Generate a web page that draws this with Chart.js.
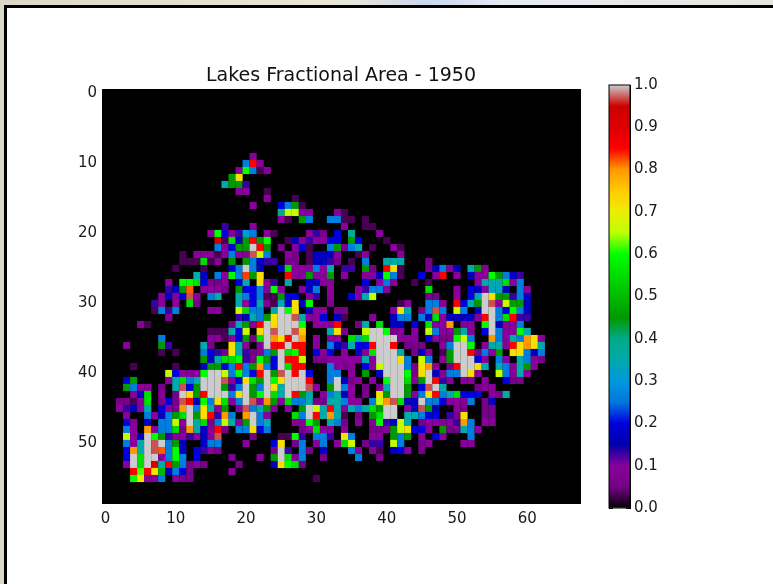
<!DOCTYPE html>
<html>
<head>
<meta charset="utf-8">
<title>Lakes Fractional Area - 1950</title>
<script src="https://cdn.jsdelivr.net/npm/chart.js@4"></script>
<style>
html, body { margin: 0; padding: 0; width: 773px; height: 584px; overflow: hidden; }
body { background: linear-gradient(90deg, #dcd8c8 0%, #e9e6da 45%, #c9d6ee 55%, #e6ebf4 65%, #e8e6dc 100%); }
#panel { position: absolute; left: 4px; top: 5px; width: 769px; height: 579px; box-sizing: border-box;
         background: #fff; border-left: 3px solid #000; border-top: 3px solid #000; }
canvas { position: absolute; left: 0; top: 0; }
</style>
</head>
<body>
<div id="panel"></div>
<canvas id="map" width="773" height="584"></canvas>
<canvas id="bar" width="773" height="584"></canvas>
<script>
// Chart text
const chartTitle = "Lakes Fractional Area - 1950";
const xTicks = [0, 10, 20, 30, 40, 50, 60];
const yTicks = [0, 10, 20, 30, 40, 50];
const barTicks = [0, 0.1, 0.2, 0.3, 0.4, 0.5, 0.6, 0.7, 0.8, 0.9, 1.0];

// Colormap stops, every 0.05 from 0 to 1
const mapStops = ["#000000","#770088","#880099","#0000aa","#0000dd","#0077dd","#0099dd","#00aaaa","#00aa88","#009900",
  "#00bb00","#00dd00","#00ff00","#bbff00","#eeee00","#ffcc00","#ff9900","#ff0000","#dd0000","#cc0000","#cccccc"];

// Cells: column, percent, column, percent ... (everything else is 0)
const firstRow = 9;
const row09 = [21,10];
const row10 = [20,26,21,85,22,10];
const row11 = [19,10,20,60,21,26,22,3,23,10];
const row12 = [18,45,19,72];
const row13 = [17,35,18,45,19,45,20,13];
const row14 = [19,10,20,10,23,3];
const row15 = [23,10,27,3];
const row16 = [21,10,25,20,26,26,27,45,28,3];
const row17 = [25,40,26,66,27,66,28,10,29,10,33,10,34,3];
const row18 = [25,10,26,3,28,45,29,26,32,26,33,26,34,3,35,3,37,3];
const row19 = [17,13,21,10,34,10,37,3,38,3];
const row20 = [15,10,16,60,17,20,18,10,19,13,20,30,21,26,23,10,24,3,29,10,30,13,31,5,33,20,35,38,39,10];
const row21 = [16,93,17,3,18,55,19,17,20,45,21,85,22,45,23,60,26,3,27,17,28,10,29,13,30,10,31,10,32,20,33,20,35,45,36,20,40,3];
const row22 = [16,26,17,10,18,20,19,45,20,45,21,100,22,85,23,45,25,5,27,10,28,20,29,3,32,26,33,45,34,5,35,26,36,35,38,3,41,10,42,3];
const row23 = [11,3,13,10,14,10,15,10,16,3,17,10,18,26,19,10,20,10,21,97,22,66,23,26,26,10,27,5,29,3,30,17,31,17,32,17,33,10,36,3,37,10,42,10];
const row24 = [11,3,12,3,13,3,14,55,15,3,16,10,18,45,20,45,21,26,22,17,23,13,24,13,26,5,27,5,29,3,30,17,31,17,32,13,33,5,35,3,37,26,40,35,41,35,42,35,46,5];
const row25 = [10,3,14,3,18,20,19,26,20,100,21,26,22,17,25,17,26,55,27,10,28,10,29,10,30,26,31,10,32,35,34,13,35,13,37,45,38,5,40,85,41,72,42,3,46,5,47,17,48,26,49,10,50,17,52,35,53,45,54,10];
const row26 = [13,35,14,17,16,26,17,10,18,60,19,26,20,83,21,45,22,72,26,85,27,10,28,10,29,45,30,10,31,10,32,45,34,10,37,10,38,10,39,17,40,60,41,26,42,3,45,20,47,10,48,85,50,10,52,17,53,10,54,10,55,60,56,45,57,26,58,17,59,13];
const row27 = [9,10,11,60,12,60,13,55,14,20,15,5,16,5,17,10,19,20,20,35,22,72,23,10,24,13,26,35,29,17,30,17,31,10,32,10,37,20,39,10,40,26,41,10,44,3,46,3,53,10,54,35,55,35,56,35,57,55,58,10,59,26];
const row28 = [9,13,10,17,11,45,12,82,14,10,15,10,16,10,17,5,19,45,20,20,21,20,22,26,23,10,24,60,25,10,28,10,29,17,30,26,32,10,36,10,37,13,38,26,39,26,40,10,46,55,50,10,52,20,53,17,54,10,55,33,56,33,57,17,59,26,60,10];
const row29 = [8,10,9,17,10,10,11,20,12,97,13,10,15,26,16,35,19,35,20,26,21,20,22,26,23,3,24,3,25,45,26,20,27,20,29,10,30,13,32,10,35,20,36,10,37,35,38,66,46,5,47,5,50,10,52,20,53,35,54,100,55,72,56,45,57,45,58,13,59,26,60,17];
const row30 = [7,13,8,10,10,10,12,55,13,5,19,35,20,10,21,20,22,35,23,10,24,3,25,35,26,17,27,72,28,17,29,60,32,5,42,3,43,10,46,26,47,26,48,10,50,85,51,20,52,35,53,45,54,100,55,97,56,10,57,66,58,45,59,45,60,17];
const row31 = [7,3,8,26,9,13,10,26,15,10,16,10,19,66,20,55,21,26,22,26,24,35,25,100,26,60,27,72,29,17,30,10,31,10,33,5,34,5,41,10,42,72,43,35,45,5,46,26,47,97,48,26,50,66,51,26,53,17,54,100,55,100,56,26,57,20,58,60,59,26,60,17];
const row32 = [9,10,19,13,20,17,21,35,22,26,23,45,24,72,25,100,26,100,27,97,28,35,29,10,30,10,31,20,33,17,34,3,38,10,41,17,42,26,43,26,45,26,46,17,47,55,48,10,49,17,50,17,51,17,52,17,53,10,54,85,55,100,56,26,57,55,58,85,59,13,60,13];
const row33 = [5,10,6,3,18,5,19,35,20,45,21,10,22,85,23,100,24,72,25,100,26,100,27,100,28,60,30,10,31,10,32,10,33,85,36,5,37,35,39,55,41,17,42,17,44,20,46,55,47,10,48,10,49,80,51,10,52,10,54,60,55,100,56,17,57,10,58,10,59,26];
const row34 = [15,3,16,3,17,3,18,35,19,20,20,66,22,72,23,100,24,97,25,100,26,100,27,97,28,75,32,35,33,72,34,5,37,66,38,100,39,100,40,60,41,5,42,10,44,10,46,66,47,26,48,10,49,10,50,45,51,35,52,10,54,20,55,100,56,26,57,10,58,10,59,60,60,35];
const row35 = [8,26,15,10,16,10,17,3,18,10,19,20,20,45,21,5,22,55,23,100,24,80,25,72,26,85,27,100,28,80,30,10,32,10,33,10,35,55,36,35,37,55,38,100,39,100,40,100,41,100,42,10,43,10,44,10,46,20,47,10,48,5,49,5,50,60,51,66,52,26,55,80,56,26,57,10,58,35,59,26,60,80,61,72,62,10];
const row36 = [3,10,8,45,9,13,14,35,15,5,18,72,19,35,20,10,22,10,23,100,24,85,25,85,26,100,27,85,28,85,30,10,32,26,33,17,34,13,35,35,36,20,37,20,38,85,39,100,40,100,41,85,43,5,44,5,45,5,48,10,49,26,50,100,51,100,52,60,54,10,55,35,56,35,57,10,58,85,59,72,60,80,61,72,62,35];
const row37 = [8,3,10,3,14,26,15,20,16,13,17,5,18,72,19,35,20,13,21,5,22,10,23,26,24,45,25,100,26,55,27,60,28,85,30,20,31,10,32,20,34,10,36,17,37,10,38,55,39,100,40,100,41,100,42,35,44,5,45,17,46,10,48,3,49,45,50,100,51,100,52,85,53,5,54,26,55,10,56,45,58,72,59,72,60,26,61,17,62,26];
const row38 = [14,45,15,17,16,35,17,55,18,55,19,60,20,13,21,5,22,60,23,45,24,20,25,100,26,85,27,85,28,66,30,5,31,5,32,10,33,10,34,10,35,10,36,10,37,35,38,10,39,100,40,100,41,100,42,72,43,26,45,66,46,26,48,10,49,45,50,100,51,100,52,100,53,20,54,10,56,26,57,10,59,35,60,26,61,10,62,5];
const row39 = [4,3,10,3,14,17,15,45,16,45,17,20,18,26,19,85,20,26,21,45,22,80,23,26,24,20,25,100,26,55,27,85,28,85,32,26,33,10,34,5,35,10,37,20,38,10,39,66,40,100,41,100,42,100,43,26,44,5,45,72,46,80,47,10,49,5,50,85,51,100,52,100,53,72,54,35,56,35,57,26,58,10,59,35,60,45,61,10];
const row40 = [9,66,10,20,11,10,12,10,13,10,14,60,15,100,16,100,17,66,18,26,19,60,20,26,21,20,22,85,23,100,24,45,25,97,26,100,27,85,28,100,29,20,32,26,33,26,35,10,37,45,39,17,40,100,41,100,42,100,43,60,44,5,45,72,46,100,47,17,48,10,49,26,50,26,51,100,52,72,53,10,56,66,57,26,58,10,59,35,60,10];
const row41 = [3,20,4,45,9,10,10,35,11,55,12,26,13,35,14,100,15,100,16,100,17,97,18,10,19,20,20,72,21,55,22,45,23,100,24,60,25,72,26,100,27,100,28,100,29,85,32,26,33,100,34,17,35,5,36,10,38,10,40,60,41,100,42,100,43,55,44,10,45,45,46,100,47,85,48,13,49,10,51,10,52,10,54,10,57,20,58,5,59,5];
const row42 = [3,45,4,26,5,10,6,10,8,5,10,35,11,97,12,20,13,45,14,100,15,100,16,100,17,45,18,13,19,26,20,100,21,45,22,26,23,100,24,72,25,35,26,100,27,100,28,100,29,97,30,10,32,45,33,100,34,26,35,10,37,5,39,5,40,35,41,100,42,100,43,45,45,20,46,97,47,100,48,35,53,5,54,10,55,10];
const row43 = [4,10,5,17,6,55,8,10,10,5,11,100,12,72,13,45,14,85,15,100,16,100,17,100,18,26,19,72,20,100,21,45,22,60,23,100,24,55,25,35,26,100,27,85,28,45,29,35,31,10,32,26,33,35,34,17,35,10,37,5,39,72,40,45,41,100,42,100,43,45,44,10,45,26,46,72,47,85,48,26,49,35,50,55,51,20,52,20,53,20,55,10,56,5,57,35];
const row44 = [2,5,3,5,4,3,5,10,6,55,8,5,9,20,10,5,11,97,12,85,13,17,14,60,15,26,16,72,17,55,18,10,19,26,20,100,21,97,22,10,23,80,24,45,25,10,26,55,27,26,28,26,29,35,30,5,31,5,32,35,33,35,34,26,35,10,36,10,38,26,39,66,40,80,41,97,42,55,43,17,44,17,45,100,46,26,47,26,48,20,49,10,50,10,51,10,52,26,54,5,55,17];
const row45 = [2,10,3,13,4,17,5,10,6,35,8,20,9,10,10,5,11,80,12,100,13,26,14,72,15,35,16,10,17,45,19,10,20,97,21,26,22,35,23,45,24,10,26,10,28,45,29,100,30,66,31,35,32,85,33,35,34,10,35,35,36,26,37,35,38,55,39,45,40,100,41,100,43,10,44,17,45,97,46,45,47,17,50,10,51,5,54,5,55,5];
const row46 = [3,10,6,26,7,10,8,17,9,26,10,45,11,55,12,100,13,45,14,72,15,85,16,13,17,80,18,26,20,80,21,100,22,26,23,10,27,55,28,26,29,100,30,85,31,35,32,80,33,35,34,3,36,5,38,45,39,55,40,100,41,100,43,35,44,35,45,26,46,20,47,20,49,13,50,5,51,72,54,5,55,5];
const row47 = [3,20,4,10,6,17,8,26,9,26,10,66,11,10,12,100,13,35,14,55,15,5,16,26,17,66,18,35,19,10,20,45,21,100,22,26,23,35,27,10,28,10,29,60,30,45,32,35,33,26,34,5,36,10,38,10,39,60,40,13,41,17,42,66,43,35,45,5,46,10,47,10,48,10,49,10,50,13,51,80,52,26,54,10,55,10];
const row48 = [3,26,4,10,6,80,7,10,8,26,9,26,10,55,11,5,12,80,13,35,14,17,15,10,16,85,17,5,19,26,20,26,21,72,22,20,23,26,28,5,29,10,30,55,31,10,32,10,34,10,38,5,39,5,40,10,41,45,42,66,43,72,44,20,45,20,46,10,48,45,49,5,50,5,51,35,52,26,53,10];
const row49 = [3,66,4,10,5,17,6,100,7,60,8,45,9,13,10,10,11,10,12,13,13,10,14,17,15,10,16,97,21,5,25,3,26,3,27,60,28,13,30,26,31,26,32,13,34,72,35,26,38,10,39,10,41,45,42,26,43,45,45,10,47,20,48,10,52,26];
const row50 = [3,26,4,10,5,35,6,100,7,97,8,100,9,26,10,45,11,17,14,17,15,26,16,26,20,10,24,20,25,72,27,5,28,26,30,10,31,26,33,10,34,55,35,66,37,5,38,13,39,13,41,66,42,26,45,5,46,10,51,10,52,10];
const row51 = [3,20,4,80,5,35,6,100,7,97,8,82,9,26,10,60,11,17,13,20,14,13,15,10,16,5,24,5,25,100,26,13,28,26,29,5,31,17,35,26,36,10,38,10,39,3,41,17,42,20,43,10,45,5];
const row52 = [3,20,4,100,5,55,6,100,7,100,8,10,9,26,10,60,11,26,13,20,18,5,22,10,24,45,25,100,26,55,27,10,28,26,31,5,36,26,39,5];
const row53 = [3,10,4,100,5,55,6,100,7,90,8,35,9,85,10,45,11,26,12,5,13,10,14,5,19,5,24,17,25,72,26,60,27,55,28,5];
const row54 = [4,85,5,62,6,85,7,72,8,50,9,17,10,26,11,20,12,5,18,10];
const row55 = [4,60,5,72,6,10,7,10,8,26,10,10,11,5,12,5,30,3];
const cellRows = [row09,row10,row11,row12,row13,row14,row15,row16,row17,row18,row19,row20,row21,row22,row23,row24,
  row25,row26,row27,row28,row29,row30,row31,row32,row33,row34,row35,row36,row37,row38,row39,row40,row41,row42,row43,
  row44,row45,row46,row47,row48,row49,row50,row51,row52,row53,row54,row55];

// Look up a colormap colour for a value in 0..1
function mapColor(value) {
    const pos = Math.min(value, 1) * (mapStops.length - 1);
    const lo = Math.floor(pos);
    const hi = Math.min(lo + 1, mapStops.length - 1);
    const a = parseInt(mapStops[lo].slice(1), 16);
    const b = parseInt(mapStops[hi].slice(1), 16);
    const f = pos - lo;
    const mix = shift => Math.round(((a >> shift) & 255) * (1 - f) + ((b >> shift) & 255) * f);
    return `rgb(${mix(16)},${mix(8)},${mix(0)})`;
}

// Turn the rows into scatter points
const points = [];
cellRows.forEach((row, i) => {
    for (let k = 0; k < row.length; k += 2) {
        points.push({ x: row[k], y: firstRow + i, v: row[k + 1] / 100 });
    }
});

const font = { family: "'DejaVu Sans'", size: 15 };
const tickColor = "#1a1a1a";

// Fixed-size side axis, ticks pointing into the plot as in the original
function fixedAxis(position, size, tickValues, showLabels, labelPadding, extra) {
    return Object.assign({
        type: "linear",
        position: position,
        grid: { drawOnChartArea: false, drawTicks: true, tickLength: -4, color: "#000", lineWidth: 1 },
        border: { display: true, color: "#000", width: 1 },
        ticks: { display: showLabels, font: font, color: tickColor, maxRotation: 0, autoSkip: false, padding: labelPadding,
                 callback: extra.labelFormat || (v => String(v)) },
        afterBuildTicks: axis => { axis.ticks = tickValues.map(v => ({ value: v })); },
        afterFit: axis => {
            if (axis.isHorizontal()) axis.height = size; else axis.width = size;
        }
    }, extra);
}

new Chart(document.getElementById("map"), {
    type: "scatter",
    data: {
        datasets: [{
            data: points,
            pointStyle: "rect",
            pointRadius: 5.05,
            pointHoverRadius: 5.05,
            borderWidth: 0,
            pointBorderWidth: 0,
            pointBackgroundColor: ctx => mapColor(ctx.raw ? ctx.raw.v : 0)
        }]
    },
    options: {
        responsive: false,
        animation: false,
        layout: { padding: { left: 0, right: 193, top: 0, bottom: 0 } },
        plugins: {
            legend: { display: false },
            tooltip: { enabled: false },
            title: {
                display: true,
                text: chartTitle,
                color: "#111",
                fullSize: false,
                font: { family: "'DejaVu Sans'", size: 19, weight: "normal" },
                padding: { top: 64.6, bottom: 2.6 }
            }
        },
        scales: {
            x: fixedAxis("bottom", 81, xTicks, true, 11, { min: -0.5, max: 67.5 }),
            y: fixedAxis("left", 102, yTicks, true, 9, { min: -0.5, max: 58.5, reverse: true }),
            x2: fixedAxis("top", 0, xTicks, false, 0, { min: -0.5, max: 67.5 }),
            y2: fixedAxis("right", 0, yTicks, false, 0, { min: -0.5, max: 58.5, reverse: true })
        }
    },
    plugins: [{
        id: "imageBackground",
        beforeDatasetsDraw(chart) {
            const a = chart.chartArea;
            chart.ctx.save();
            chart.ctx.fillStyle = "#000";
            chart.ctx.fillRect(a.left, a.top, a.width, a.height);
            chart.ctx.restore();
        }
    }]
});

// Colour bar, a single floating bar filled with the colormap
new Chart(document.getElementById("bar"), {
    type: "bar",
    data: {
        labels: [""],
        datasets: [{
            data: [[0, 1]],
            barPercentage: 1,
            categoryPercentage: 1,
            backgroundColor: ctx => {
                const area = ctx.chart.chartArea;
                if (!area) return "#000";
                const grad = ctx.chart.ctx.createLinearGradient(0, area.bottom, 0, area.top);
                mapStops.forEach((c, i) => grad.addColorStop(i / (mapStops.length - 1), c));
                return grad;
            }
        }]
    },
    options: {
        responsive: false,
        animation: false,
        layout: { padding: { left: 609, right: 0, top: 85, bottom: 76 } },
        plugins: { legend: { display: false }, tooltip: { enabled: false } },
        scales: {
            x: {
                display: false,
                afterFit: axis => { axis.height = 0; }
            },
            y: fixedAxis("right", 143, barTicks, true, 8, { min: 0, max: 1, labelFormat: v => v.toFixed(1) }),
            y2: fixedAxis("left", 0, barTicks, false, 0, { min: 0, max: 1 })
        }
    },
    plugins: [{
        id: "barOutline",
        afterDraw(chart) {
            const a = chart.chartArea;
            chart.ctx.save();
            chart.ctx.strokeStyle = "#000";
            chart.ctx.lineWidth = 1;
            chart.ctx.strokeRect(a.left, a.top, a.width, a.height);
            chart.ctx.restore();
        }
    }]
});
</script>
</body>
</html>
